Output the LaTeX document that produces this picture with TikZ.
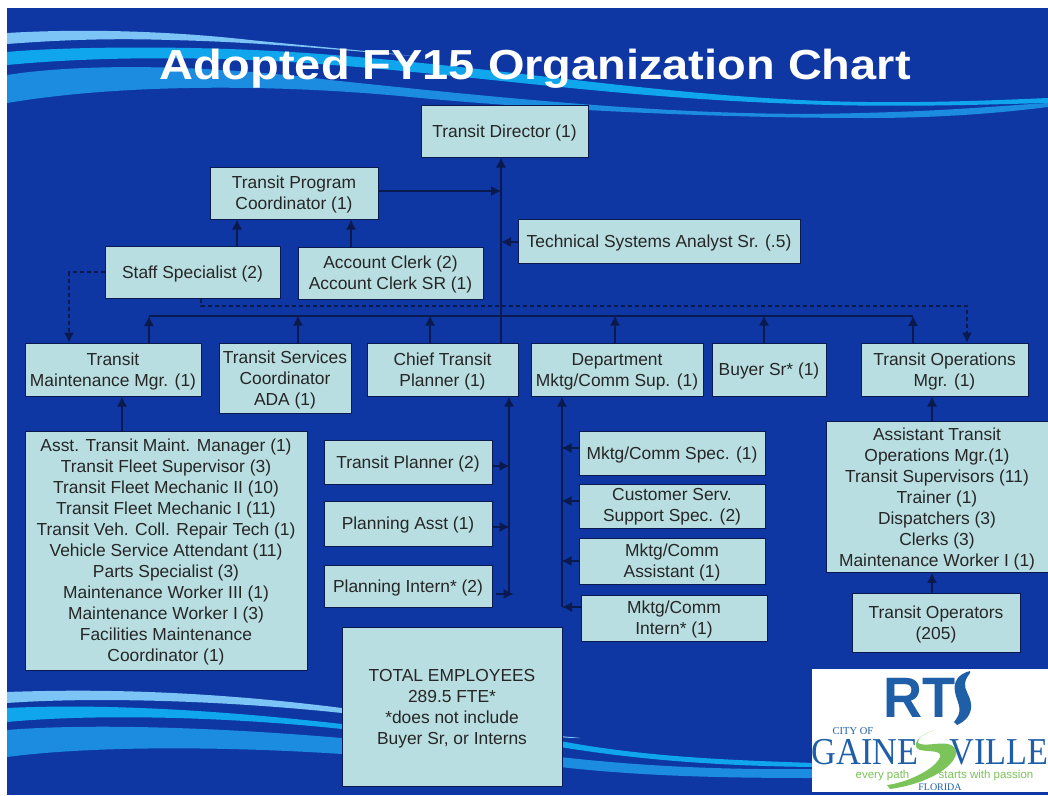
\documentclass[tikz,border=0pt]{standalone}
\usepackage{fontspec}
\setmainfont{Liberation Sans}
\newfontfamily\logoserif{Liberation Serif}
\usetikzlibrary{arrows.meta,calc}
\definecolor{bgblue}{HTML}{0F37A3}
\definecolor{boxfill}{HTML}{B9DEE1}
\definecolor{boxline}{HTML}{0A1A4E}
\definecolor{wavelight}{HTML}{7CC4F5}
\definecolor{wavecyan}{HTML}{10A6EE}
\definecolor{wavemid}{HTML}{1C8CE0}
\definecolor{logoblue}{HTML}{1F5FA8}
\definecolor{logogreen}{HTML}{7CC35A}
\tikzset{
  x=1pt,y=-1pt,
  box/.style={draw=boxline,line width=1pt,fill=boxfill,inner sep=0pt,text=black!85,
    font=\fontsize{17.4}{21}\selectfont},
  arr/.style={draw=boxline,line width=1.2pt,-{Latex[length=10pt,width=10pt]}},
  plain/.style={draw=boxline,line width=1.2pt},
  dasharr/.style={draw=boxline,line width=1.1pt,dash pattern=on 4pt off 3pt,-{Latex[length=10pt,width=10pt]}},
}
\def\bxkern{3.8pt}
\newcommand\bx[6]{%
  \pgfmathsetmacro\bxw{#4-#2}\pgfmathsetmacro\bxh{#5-#3}%
  \pgfmathsetmacro\bxx{(#2+#4)/2}\pgfmathsetmacro\bxy{(#3+#5)/2}%
  \node[box,minimum width=\bxw pt,minimum height=\bxh pt] (#1) at (\bxx,\bxy) {\vbox{\kern\bxkern\hbox{\begin{tabular}{@{}c@{}}#6\end{tabular}}}};}
\begin{document}
\begin{tikzpicture}
\useasboundingbox (0,0) rectangle (1048,795);
\fill[white] (0,0) rectangle (1048,795);
\fill[bgblue] (7,8) rectangle (1048,795);
% top waves
\fill[wavemid] (7,75) .. controls (90,62) and (220,66) .. (330,80) .. controls (520,100) and (700,118) .. (860,113) .. controls (950,111) and (1010,105) .. (1048,103)
  -- (1048,107) .. controls (1000,113) and (940,118) .. (867,118) .. controls (700,118) and (520,108) .. (400,96) .. controls (270,84) and (120,84) .. (7,103) -- cycle;
\fill[wavecyan] (7,52) .. controls (60,47) and (200,44) .. (333,55) .. controls (500,68) and (640,92) .. (800,100) .. controls (900,105) and (1000,100) .. (1048,98)
  -- (1048,103) .. controls (1000,104) and (900,108) .. (800,104) .. controls (620,98) and (480,76) .. (333,65) .. controls (220,56) and (100,56) .. (7,65) -- cycle;
\fill[wavelight] (7,33) .. controls (90,28) and (180,32) .. (250,40) .. controls (320,47) and (380,52) .. (413,56)
  .. controls (340,50) and (260,42) .. (170,40) .. controls (110,38) and (60,40) .. (7,44) -- cycle;
% bottom waves
\fill[wavemid] (7,730) .. controls (80,724) and (200,726) .. (342,738) -- (342,754) .. controls (220,746) and (90,746) .. (7,757) -- cycle;
\fill[wavecyan] (7,708) .. controls (90,704) and (200,708) .. (342,724) -- (342,729) .. controls (220,716) and (90,714) .. (7,722) -- cycle;
\fill[wavelight] (7,692) .. controls (90,689) and (200,690) .. (342,708) -- (342,713) .. controls (220,700) and (90,697) .. (7,703) -- cycle;
\fill[wavecyan] (560,741) .. controls (640,756) and (720,760) .. (815,763) -- (815,767) .. controls (720,766) and (640,760) .. (560,747) -- cycle;
\fill[wavemid] (560,757) .. controls (640,766) and (720,770) .. (815,769) -- (815,778) .. controls (720,778) and (640,776) .. (560,767) -- cycle;
\fill[wavelight] (560,736) .. controls (568,737) and (574,737) .. (580,738) .. controls (574,738) and (568,738) .. (560,737) -- cycle;
% title
\node[font=\fontsize{42}{44}\bfseries\selectfont,text=white] (title) at (535,69) {\scalebox{1.118}[1]{Adopted FY15 Organization Chart}};
% boxes
\bx{dir}{421}{105}{588}{157}{Transit Director (1)}
\bx{tpc}{210}{167}{378}{219}{Transit Program\\Coordinator (1)}
\bx{staff}{105}{246}{280}{298}{Staff Specialist (2)}
\bx{acct}{298}{247}{483}{299}{Account Clerk (2)\\Account Clerk SR (1)}
\bx{tsa}{518}{219}{800}{263}{Technical Systems Analyst Sr. (.5)}
\bx{tmm}{25}{343}{201}{396}{Transit\\Maintenance Mgr. (1)}
\bx{tsc}{219}{343}{351}{413}{Transit Services\\Coordinator\\ADA (1)}
\bx{ctp}{367}{343}{518}{396}{Chief Transit\\Planner (1)}
\bx{dept}{531}{343}{703}{396}{Department\\Mktg/Comm Sup. (1)}
\bx{buyer}{712}{343}{826}{396}{Buyer Sr* (1)}
\bx{ops}{861}{343}{1028}{396}{Transit Operations\\Mgr. (1)}
\bx{mlist}{25}{431}{307}{670}{Asst. Transit Maint. Manager (1)\\Transit Fleet Supervisor (3)\\Transit Fleet Mechanic II (10)\\Transit Fleet Mechanic I (11)\\Transit Veh. Coll. Repair Tech (1)\\Vehicle Service Attendant (11)\\Parts Specialist (3)\\Maintenance Worker III (1)\\Maintenance Worker I (3)\\Facilities Maintenance\\Coordinator (1)}
\bx{olist}{826}{422}{1048}{572}{Assistant Transit\\Operations Mgr.(1)\\Transit Supervisors (11)\\Trainer (1)\\Dispatchers (3)\\Clerks (3)\\Maintenance Worker I (1)}
\bx{oper}{852}{593}{1020}{652}{Transit Operators\\(205)}
\bx{tp}{324}{440}{492}{484}{Transit Planner (2)}
\bx{pa}{324}{501}{492}{546}{Planning Asst (1)}
\bx{pi}{324}{565}{492}{607}{Planning Intern* (2)}
\bx{ms}{579}{431}{765}{475}{Mktg/Comm Spec. (1)}
\def\bxkern{1.8pt}
\bx{cs}{579}{484}{765}{528}{Customer Serv.\\Support Spec. (2)}
\def\bxkern{3.8pt}
\bx{ma}{579}{538}{765}{584}{Mktg/Comm\\Assistant (1)}
\bx{mi}{581}{595}{767}{641}{Mktg/Comm\\Intern* (1)}
\bx{total}{342}{627}{562}{786}{TOTAL EMPLOYEES\\289.5 FTE*\\{}*does not include\\Buyer Sr, or Interns}
% junctions
\coordinate (busL) at (149,316);
\coordinate (busR) at (913,316);
\coordinate (spineTPC) at (501,191);
\coordinate (spineTSA) at (501,242);
\coordinate (stemC) at (509,595);
\coordinate (stemD) at (562,607);
\coordinate (dashA) at (201,306);
\coordinate (dashB) at (967,306);
% connectors
\draw[arr] ([xshift=58.5pt]ctp.north) -- ([xshift=-3.5pt]dir.south);
\draw[arr] (tpc.east |- spineTPC) -- (spineTPC);
\draw[arr] (tsa.west |- spineTSA) -- (spineTSA);
\draw[arr] ([xshift=44.5pt]staff.north) -- ([xshift=-57pt]tpc.south);
\draw[arr] ([xshift=-39.5pt]acct.north) -- ([xshift=57pt]tpc.south);
\draw[plain] (busL) -- (busR);
\draw[arr] ([xshift=36pt]tmm.north) -- (busL);
\draw[arr] ([xshift=13pt]tsc.north) -- ++(0,-27);
\draw[arr] ([xshift=-12.5pt]ctp.north) -- ++(0,-27);
\draw[arr] ([xshift=-2pt]dept.north) -- ++(0,-27);
\draw[arr] ([xshift=-5pt]buyer.north) -- ++(0,-27);
\draw[arr] ([xshift=-31.5pt]ops.north) -- (busR);
\draw[dasharr] (staff.west) -| ([xshift=-44pt]tmm.north);
\draw[dasharr] ([xshift=8.5pt]staff.south) -- (dashA) -- (dashB) -- ([xshift=22.5pt]ops.north);
\draw[arr] ([xshift=-44pt]mlist.north) -- ([xshift=9pt]tmm.south);
\draw[arr] ([xshift=-5pt]olist.north) -- ([xshift=-12.5pt]ops.south);
\draw[arr] ([xshift=-4pt]oper.north) -- ([xshift=-5pt]olist.south);
\draw[arr] (stemC) -- ([xshift=66.5pt]ctp.south);
\draw[arr] ([yshift=-4pt]tp.east) -- ++(17,0);
\draw[arr] ([yshift=-3.5pt]pa.east) -- ++(17,0);
\draw[arr] ([xshift=3pt,yshift=-8pt]pi.east) -- ++(18,0);
\draw[arr] (stemD) -- ([xshift=-55pt]dept.south);
\draw[arr] ([yshift=5pt]ms.west) -- ++(-17,0);
\draw[arr] ([yshift=5pt]cs.west) -- ++(-17,0);
\draw[arr] (ma.west) -- ++(-17,0);
\draw[arr] ([yshift=11pt]mi.west) -- (stemD);
% logo
\fill[white] (812,669) rectangle (1048,792);
\node[text=logoblue,font=\fontsize{57}{57}\bfseries\selectfont,anchor=west,inner sep=0pt] (rts) at (883,698) {\scalebox{.95}[1]{RT}};
\fill[logoblue] (970,671) .. controls (958,674) and (953,682) .. (955,692) .. controls (957,702) and (962,708) .. (958,716) .. controls (957,719) and (955,720) .. (954,722) -- (957,725) .. controls (966,721) and (972,714) .. (971,704) .. controls (970,695) and (964,690) .. (965,683) .. controls (966,678) and (968,676) .. (970,673) -- cycle;
\node[text=logoblue,font=\logoserif\fontsize{10.5}{10.5}\selectfont,inner sep=0pt] (city) at (853,731) {CITY OF};
\node[font=\logoserif\fontsize{38}{38}\selectfont,text=logoblue,inner sep=0pt] (gville) at (930,752) {\scalebox{.9}[1]{GAINE\hspace{35pt}VILLE}};
\fill[logogreen] (935,730) .. controls (925,733) and (917,738) .. (918,743) .. controls (925,747) and (938,742) .. (948,744) .. controls (956,746) and (958,752) .. (955,757) .. controls (948,772) and (920,785) .. (890,789) -- (887,785) .. controls (905,783) and (935,770) .. (940,757) .. controls (942,750) and (930,752) .. (920,750) .. controls (910,746) and (918,735) .. (935,730) -- cycle;
\node[text=logogreen,font=\fontsize{11.5}{11.5}\selectfont,inner sep=0pt] (tag1) at (882.5,776) {every path};
\node[text=logogreen,font=\fontsize{11.5}{11.5}\selectfont,inner sep=0pt] (tag2) at (986,776) {starts with passion};
\node[text=logoblue,font=\logoserif\fontsize{10}{10}\selectfont,inner sep=0pt] (fl) at (940,787) {FLORIDA};
\end{tikzpicture}
\end{document}
